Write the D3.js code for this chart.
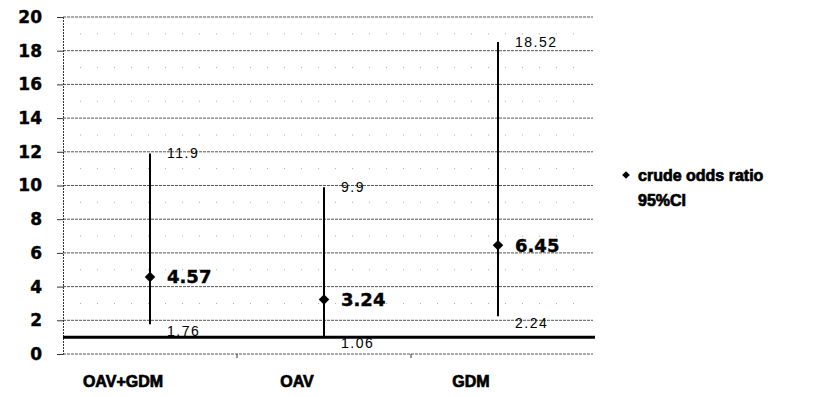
<!DOCTYPE html>
<html>
<head>
<meta charset="utf-8">
<script src="https://cdn.jsdelivr.net/npm/d3@7"></script>
<style>
  body { margin: 0; background: #fff; }
  text { font-family: "Liberation Sans", Arial, sans-serif; fill: #000; }
  .heavy { font-weight: bold; stroke: #000; stroke-width: 0.7px; }
  .wide { font-family: "DejaVu Sans", sans-serif; font-weight: bold; stroke: #000; stroke-width: 0.4px; }
</style>
</head>
<body>
<script>
// Set up size
var width = 835;
var height = 397;

// Chart values
var groups = ['OAV+GDM', 'OAV', 'GDM'];
var oddsRatio = [4.57, 3.24, 6.45];
var ciLow = [1.76, 1.06, 2.24];
var ciHigh = [11.9, 9.9, 18.52];
var yTicks = [0, 2, 4, 6, 8, 10, 12, 14, 16, 18, 20];
var minorTicks = [1, 3, 5, 7, 9, 11, 13, 15, 17, 19];
var refLine = 1;
var legendLabels = ['crude odds ratio', '95%CI'];

var margin = {left: 63, right: 240, top: 17, bottom: 43};

var svg = d3.select('body').append('svg')
  .attr('width', width)
  .attr('height', height);

var x = d3.scaleBand()
  .domain(groups)
  .range([margin.left, margin.left + 522]);

var y = d3.scaleLinear()
  .domain([0, 20])
  .range([height - margin.bottom, margin.top]);

// minor grid (faint dots)
svg.selectAll('.minor')
  .data(minorTicks)
  .enter().append('line')
  .attr('x1', margin.left)
  .attr('x2', x.range()[1])
  .attr('y1', d => y(d))
  .attr('y2', d => y(d))
  .attr('stroke', '#aaa')
  .attr('stroke-width', 1)
  .attr('stroke-dasharray', '1,16');

// major grid
svg.selectAll('.grid')
  .data(yTicks)
  .enter().append('line')
  .attr('x1', margin.left)
  .attr('x2', x.range()[1] + 8)
  .attr('y1', d => y(d))
  .attr('y2', d => y(d))
  .attr('stroke', '#555')
  .attr('stroke-width', 1)
  .attr('stroke-dasharray', '3,1');

// y axis
var yAxis = svg.append('g')
  .attr('transform', 'translate(' + margin.left + ',0)')
  .call(d3.axisLeft(y).tickValues(yTicks).tickSize(6).tickPadding(15));
yAxis.select('.domain').attr('stroke', '#333').attr('stroke-dasharray', '2,1');
yAxis.selectAll('.tick line').attr('stroke', '#333');
yAxis.selectAll('text')
  .attr('class', 'wide')
  .attr('font-size', 17)
  .attr('fill', '#000');

// x axis
var xAxis = svg.append('g')
  .attr('transform', 'translate(0,' + y(0) + ')')
  .call(d3.axisBottom(x).tickSize(0).tickPadding(22));
xAxis.select('.domain').remove();
xAxis.selectAll('text')
  .attr('class', 'heavy')
  .attr('dx', -27)
  .attr('font-size', 16)
  .attr('fill', '#000');
svg.selectAll('.xtick')
  .data(groups.slice(1))
  .enter().append('line')
  .attr('x1', d => x(d))
  .attr('x2', d => x(d))
  .attr('y1', y(0))
  .attr('y2', y(0) + 4)
  .attr('stroke', '#333');

// reference line at 1
svg.append('line')
  .attr('x1', margin.left)
  .attr('x2', x.range()[1] + 10)
  .attr('y1', y(refLine))
  .attr('y2', y(refLine))
  .attr('stroke', '#000')
  .attr('stroke-width', 3);

var data = groups.map(function(g, i) {
  return {g: g, or: oddsRatio[i], lo: ciLow[i], hi: ciHigh[i]};
});

var cx = d => x(d.g) + x.bandwidth() / 2;

// CI lines
svg.selectAll('.ci')
  .data(data)
  .enter().append('line')
  .attr('x1', cx)
  .attr('x2', cx)
  .attr('y1', d => y(d.lo))
  .attr('y2', d => y(d.hi))
  .attr('stroke', '#000')
  .attr('stroke-width', 2);

// CI labels
svg.selectAll('.hiLabel')
  .data(data)
  .enter().append('text')
  .attr('x', d => cx(d) + 17)
  .attr('y', d => y(d.hi))
  .attr('dy', '0.35em')
  .attr('font-size', 14)
  .attr('letter-spacing', 1.5)
  .text(d => d.hi);

svg.selectAll('.loLabel')
  .data(data)
  .enter().append('text')
  .attr('x', d => cx(d) + 17)
  .attr('y', d => y(d.lo))
  .attr('dy', '0.85em')
  .attr('font-size', 14)
  .attr('letter-spacing', 1.5)
  .text(d => d.lo);

// odds ratio markers
var diamond = d3.symbol().type(d3.symbolSquare).size(55);
svg.selectAll('.or')
  .data(data)
  .enter().append('path')
  .attr('d', diamond)
  .attr('transform', d => 'translate(' + cx(d) + ',' + y(d.or) + ') rotate(45)')
  .attr('fill', '#000');

svg.selectAll('.orLabel')
  .data(data)
  .enter().append('text')
  .attr('class', 'wide')
  .attr('x', d => cx(d) + 17)
  .attr('y', d => y(d.or))
  .attr('dy', '0.36em')
  .attr('font-size', 18)
  .text(d => d.or);

// legend
var legend = svg.append('g').attr('transform', 'translate(626,175)');
legend.append('path')
  .attr('d', d3.symbol().type(d3.symbolSquare).size(30))
  .attr('transform', 'rotate(45)')
  .attr('fill', '#000');
legend.selectAll('text')
  .data(legendLabels)
  .enter().append('text')
  .attr('class', 'heavy')
  .attr('x', 12)
  .attr('y', (d, i) => i * 25)
  .attr('dy', '0.35em')
  .attr('font-size', 16)
  .attr('stroke-width', 0.3)
  .text(d => d);
</script>
</body>
</html>
